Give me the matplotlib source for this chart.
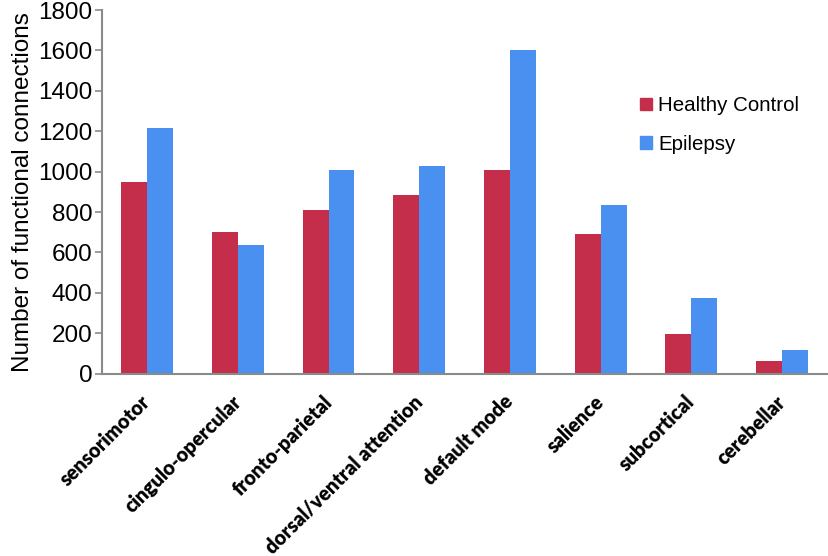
import numpy as np
import matplotlib.pyplot as plt
from matplotlib.patches import Patch

categories = ['sensorimotor', 'cingulo-opercular', 'fronto-parietal',
              'dorsal/ventral attention', 'default mode', 'salience',
              'subcortical', 'cerebellar']
healthy = [948, 703, 809, 883, 1007, 690, 198, 64]
epilepsy = [1218, 637, 1007, 1027, 1602, 833, 373, 119]
yticks = [0, 200, 400, 600, 800, 1000, 1200, 1400, 1600, 1800]

red = '#C42E4B'
blue = '#4A90F0'

fig = plt.figure(figsize=(8.29, 5.56), dpi=100)
ax = fig.add_axes([0.123, 0.328, 0.875, 0.654])

x = np.arange(len(categories))
w = 0.285
ax.bar(x - w/2, healthy, w, color=red)
ax.bar(x + w/2, epilepsy, w, color=blue)

ax.set_xlim(-0.5, len(categories) - 0.5)
ax.set_ylim(0, 1800)
ax.set_yticks(yticks)
ax.set_yticklabels([str(v) for v in yticks], fontsize=17.5, family='Liberation Sans')
ax.set_ylabel('Number of functional connections', fontsize=17.5,
              family='Liberation Sans', labelpad=3)

ax.set_xticks(x)
ax.set_xticklabels(categories, rotation=45, ha='right', va='center',
                   rotation_mode='anchor', fontsize=14.2, family='Lato',
                   fontweight='heavy')
ax.tick_params(axis='x', length=0, pad=18)
ax.tick_params(axis='y', length=5, width=1.2, color='#8a8a8a', pad=2)

for s in ['top', 'right']:
    ax.spines[s].set_visible(False)
for s in ['left', 'bottom']:
    ax.spines[s].set_color('#8a8a8a')
    ax.spines[s].set_linewidth(1.5)

handles = [Patch(color=red), Patch(color=blue)]
fig.legend(handles, ['Healthy Control', 'Epilepsy'], loc='upper left',
           bbox_to_anchor=(0.75, 0.86), frameon=False,
           prop={'family': 'Liberation Sans', 'size': 14.8},
           handlelength=0.58, handleheight=0.58, handletextpad=0.3,
           labelspacing=0.95)

fig.savefig('out.png', dpi=100)
